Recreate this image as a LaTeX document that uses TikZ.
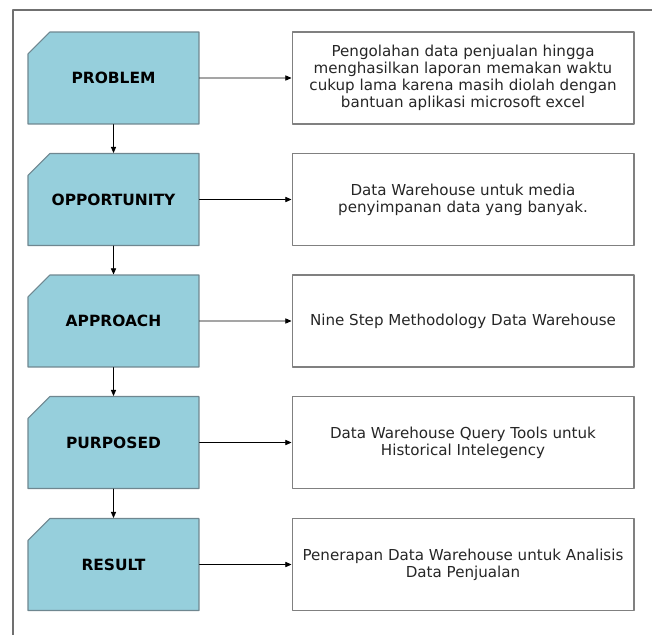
\documentclass[tikz,border=0pt]{standalone}
\usepackage{fontspec}
\setmainfont{DejaVu Sans}
\usepackage{tikz}
\usetikzlibrary{arrows.meta,shapes.misc}
\definecolor{boxblue}{HTML}{96CFDC}
\definecolor{boxedge}{HTML}{6F8790}
\definecolor{frameline}{HTML}{707070}

\begin{document}
\begin{tikzpicture}[line cap=round,line join=round,>={Triangle[length=3.5pt,width=3pt]},x=0.02cm,y=-0.02cm,
    stagebox/.style={chamfered rectangle,chamfered rectangle corners=north west,
        chamfered rectangle xsep=0.32cm,chamfered rectangle ysep=0.32cm,
        draw=boxedge,fill=boxblue,line width=0.6pt,minimum width=3.42cm,minimum height=1.84cm,
        inner sep=0pt,font=\fontsize{8.8}{10}\selectfont\bfseries},
    notebox/.style={rectangle,draw=gray,line width=0.6pt,minimum width=6.84cm,minimum height=1.84cm,
        inner sep=0pt,align=center,text=black!85,font=\fontsize{8.6}{9.6}\selectfont}]
        \useasboundingbox (0,0) rectangle (652,635);
        \draw [color=frameline,line width=0.6pt] (13,635) -- (13,10) -- (652,10);
        % left column
        \node[stagebox] (problem) at (113.5,78) {PROBLEM};
        \node[stagebox] (opportunity) at (113.5,199.5) {OPPORTUNITY};
        \node[stagebox] (approach) at (113.5,321) {APPROACH};
        \node[stagebox] (purposed) at (113.5,442.5) {PURPOSED};
        \node[stagebox] (result) at (113.5,564.5) {RESULT};
        % right column
        \node[notebox] (problemtext) at (463,78) {Pengolahan data penjualan hingga\\menghasilkan laporan memakan waktu\\cukup lama karena masih diolah dengan\\bantuan aplikasi microsoft excel};
        \node[notebox] (opportunitytext) at (463,199.5) {Data Warehouse untuk media\\penyimpanan data yang banyak.};
        \node[notebox] (approachtext) at (463,321) {Nine Step Methodology Data Warehouse};
        \node[notebox] (purposedtext) at (463,442.5) {Data Warehouse Query Tools untuk\\Historical Intelegency};
        \node[notebox] (resulttext) at (463,564.5) {Penerapan Data Warehouse untuk Analisis\\Data Penjualan};
        % connectors
        \draw [->] (problem) -- (opportunity);
        \draw [->] (opportunity) -- (approach);
        \draw [->] (approach) -- (purposed);
        \draw [->] (purposed) -- (result);
        \draw [->] (problem) -- (problemtext);
        \draw [->] (opportunity) -- (opportunitytext);
        \draw [->] (approach) -- (approachtext);
        \draw [->] (purposed) -- (purposedtext);
        \draw [->] (result) -- (resulttext);
    \end{tikzpicture}
\end{document}
